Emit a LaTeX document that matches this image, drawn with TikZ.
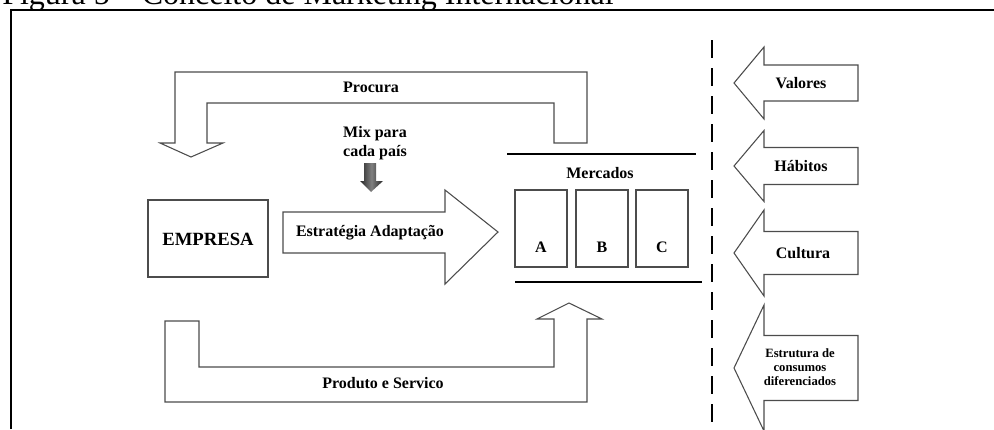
\documentclass[tikz,border=0pt]{standalone}
\usepackage{fontspec}
\setmainfont{Liberation Serif}
% arrow coming from the right: centre y, half height of the head, half height of the shaft
\newcommand{\influencia}[3]{%
  \draw[bloco] (\tipx,#1) -- (\basex,#1-#2) -- (\basex,#1-#3) -- (\endx,#1-#3)
    -- (\endx,#1+#3) -- (\basex,#1+#3) -- (\basex,#1+#2) -- cycle;}
\begin{document}
\begin{tikzpicture}[x=0.75pt,y=-0.75pt,
    bloco/.style={draw=black!70,line width=0.8pt,fill=white,line join=miter},
    caixa/.style={draw=black!70,line width=0.8pt},
    rotulo/.style={font=\bfseries\fontsize{12}{14}\selectfont,inner sep=0pt},
    traco/.style={line width=2.2pt}]
        \def\tipx{734}
        \def\basex{764}
        \def\endx{858}
        \clip (0,0) rectangle (994,429);

        % title, cut by the top of the picture
        \node[anchor=base west,inner sep=0pt] (titulo) at (2,4) {\fontsize{24}{28}\selectfont Figura 5 – Conceito de Marketing Internacional};
        \draw[line width=1.5pt] (11,429) -- (11,10) -- (994,10);

        % Procura
        \draw[bloco] (175,143) -- (175,72) -- (587,72) -- (587,143) -- (554,143) -- (554,103) -- (207,103) -- (207,143) -- (223,143) -- (191,157) -- (160,143) -- cycle;
        \node[rotulo] (procura) at (371,87) {Procura};

        % Produto e Servico
        \draw[bloco] (165,321) -- (199,321) -- (199,367) -- (554,367) -- (554,319) -- (537,319) -- (569,303) -- (602,319) -- (587,319) -- (587,402) -- (165,402) -- cycle;
        \node[rotulo] (produto) at (383,383) {Produto e Servico};

        % Mix
        \node[rotulo,align=center] (mix) at (375,143) {Mix para\\cada país};
        \shade[left color=black!85,right color=black!85,middle color=black!50] (360,181) -- (364,181) -- (364,163) -- (376,163) -- (376,181) -- (383,181) -- (371,192) -- cycle;

        % Empresa
        \draw[caixa] (148,200) rectangle (268,277);
        \node[rotulo,font=\bfseries\fontsize{14}{16}\selectfont] (empresa) at (208,239) {EMPRESA};

        % Estrategia
        \draw[bloco] (283,212) -- (445,212) -- (445,190) -- (498,232) -- (445,284) -- (445,253) -- (283,253) -- cycle;
        \node[rotulo] (estrategia) at (370,233) {Estratégia Adaptação};

        % Mercados
        \draw[traco] (507,154) -- (696,154);
        \draw[traco] (515,282) -- (702,282);
        \node[rotulo] (mercados) at (600,173) {Mercados};
        \draw[caixa] (515,190) rectangle (567,267);
        \draw[caixa] (576,190) rectangle (628,267);
        \draw[caixa] (636,190) rectangle (688,267);
        \node[rotulo] (a) at (541,247) {A};
        \node[rotulo] (b) at (602,247) {B};
        \node[rotulo] (c) at (662,247) {C};

        \draw[line width=1.5pt,dash pattern=on 13.5pt off 7.5pt] (712,40) -- (712,429);

        % influences
        \influencia{83}{36}{18}
        \node[rotulo] (valores) at (801,83) {Valores};
        \influencia{166}{35.5}{18.5}
        \node[rotulo] (habitos) at (801,166) {Hábitos};
        \influencia{253}{43}{21.5}
        \node[rotulo] (cultura) at (803,253) {Cultura};
        \influencia{368}{63}{32.5}
        \node[rotulo,align=center,font=\bfseries\fontsize{9.5}{10.5}\selectfont] (estrutura) at (800,367) {Estrutura de\\consumos\\diferenciados};
\end{tikzpicture}
\end{document}
